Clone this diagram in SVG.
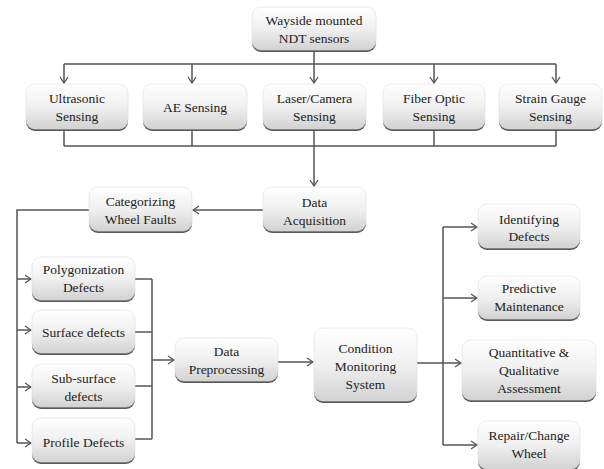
<svg xmlns="http://www.w3.org/2000/svg" width="604" height="469" viewBox="0 0 604 469">
<defs>
<linearGradient id="g" x1="0" y1="0" x2="0" y2="1">
<stop offset="0" stop-color="#ffffff"/>
<stop offset="0.5" stop-color="#f0f0f0"/>
<stop offset="1" stop-color="#d2d2d2"/>
</linearGradient>
<marker id="a" markerWidth="8" markerHeight="10" refX="7" refY="5" orient="auto" markerUnits="userSpaceOnUse">
<path d="M1,1 L7,5 L1,9" fill="none" stroke="#555" stroke-width="1.3"/>
</marker>
<style>
.sh{fill:#5a5a5a}
.bx{fill:url(#g);stroke:#dedede;stroke-width:0.6}
text{font-family:"Liberation Serif","Times New Roman",serif;font-size:13.5px;fill:#222;text-anchor:middle}
.c{fill:none;stroke:#555;stroke-width:1.5}
.ar{fill:none;stroke:#555;stroke-width:1.5;marker-end:url(#a)}
</style>
</defs>
<rect width="604" height="469" fill="#ffffff"/>

<g id="connectors">
<path class="c" d="M64,64 H556"/>
<path class="ar" d="M314,50 V83"/>
<path class="ar" d="M64,64 V83"/>
<path class="ar" d="M192,64 V83"/>
<path class="ar" d="M434,64 V83"/>
<path class="ar" d="M556,64 V83"/>
<path class="c" d="M64,129 V146 M192,129 V146 M434,129 V146 M556,129 V146 M64,146 H556"/>
<path class="ar" d="M314,129 V186"/>
<path class="ar" d="M263,210 H193"/>
<path class="c" d="M89,210 H17 V443"/>
<path class="ar" d="M17,279 H31"/>
<path class="ar" d="M17,330 H31"/>
<path class="ar" d="M17,387 H31"/>
<path class="ar" d="M17,443 H31"/>
<path class="c" d="M135,279 H152 M135,332 H152 M135,386 H152 M135,439 H152 M152,279 V439"/>
<path class="ar" d="M152,360 H174"/>
<path class="ar" d="M278,362 H313"/>
<path class="ar" d="M417,363 H461"/>
<path class="c" d="M443,227 V445"/>
<path class="ar" d="M443,227 H477"/>
<path class="ar" d="M443,298 H477"/>
<path class="ar" d="M443,445 H477"/>
</g>

<g id="wayside">
<rect class="sh" x="252" y="9" width="124" height="43" rx="9"/>
<rect class="bx" x="252" y="7" width="124" height="43" rx="9"/>
<text x="314" y="25">Wayside mounted</text>
<text x="314" y="43">NDT sensors</text>
</g>

<g id="ultrasonic">
<rect class="sh" x="26" y="86" width="102" height="45" rx="9"/>
<rect class="bx" x="26" y="84" width="102" height="45" rx="9"/>
<text x="77" y="103">Ultrasonic</text>
<text x="77" y="121">Sensing</text>
</g>

<g id="ae">
<rect class="sh" x="143" y="86" width="104" height="45" rx="9"/>
<rect class="bx" x="143" y="84" width="104" height="45" rx="9"/>
<text x="195" y="112">AE Sensing</text>
</g>

<g id="laser">
<rect class="sh" x="263" y="86" width="103" height="45" rx="9"/>
<rect class="bx" x="263" y="84" width="103" height="45" rx="9"/>
<text x="314.5" y="103">Laser/Camera</text>
<text x="314.5" y="121">Sensing</text>
</g>

<g id="fiber">
<rect class="sh" x="383" y="86" width="102" height="45" rx="9"/>
<rect class="bx" x="383" y="84" width="102" height="45" rx="9"/>
<text x="434" y="103">Fiber Optic</text>
<text x="434" y="121">Sensing</text>
</g>

<g id="strain">
<rect class="sh" x="499" y="86" width="103" height="45" rx="9"/>
<rect class="bx" x="499" y="84" width="103" height="45" rx="9"/>
<text x="550.5" y="103">Strain Gauge</text>
<text x="550.5" y="121">Sensing</text>
</g>

<g id="acquisition">
<rect class="sh" x="263" y="189" width="103" height="44" rx="9"/>
<rect class="bx" x="263" y="187" width="103" height="44" rx="9"/>
<text x="314.5" y="207">Data</text>
<text x="314.5" y="225">Acquisition</text>
</g>

<g id="categorizing">
<rect class="sh" x="89" y="189" width="103" height="44" rx="9"/>
<rect class="bx" x="89" y="187" width="103" height="44" rx="9"/>
<text x="140.5" y="206">Categorizing</text>
<text x="140.5" y="224">Wheel Faults</text>
</g>

<g id="polygonization">
<rect class="sh" x="32" y="259" width="103" height="43" rx="9"/>
<rect class="bx" x="32" y="257" width="103" height="43" rx="9"/>
<text x="83.5" y="274">Polygonization</text>
<text x="83.5" y="292">Defects</text>
</g>

<g id="surface">
<rect class="sh" x="32" y="312" width="103" height="43" rx="9"/>
<rect class="bx" x="32" y="310" width="103" height="43" rx="9"/>
<text x="83.5" y="337">Surface defects</text>
</g>

<g id="subsurface">
<rect class="sh" x="32" y="366" width="103" height="43" rx="9"/>
<rect class="bx" x="32" y="364" width="103" height="43" rx="9"/>
<text x="83.5" y="383">Sub-surface</text>
<text x="83.5" y="401">defects</text>
</g>

<g id="profile">
<rect class="sh" x="32" y="420" width="103" height="44" rx="9"/>
<rect class="bx" x="32" y="418" width="103" height="44" rx="9"/>
<text x="83.5" y="447">Profile Defects</text>
</g>

<g id="preprocessing">
<rect class="sh" x="175" y="340" width="103" height="43" rx="9"/>
<rect class="bx" x="175" y="338" width="103" height="43" rx="9"/>
<text x="226.5" y="356">Data</text>
<text x="226.5" y="374">Preprocessing</text>
</g>

<g id="cms">
<rect class="sh" x="314" y="330" width="103" height="73" rx="9"/>
<rect class="bx" x="314" y="328" width="103" height="73" rx="9"/>
<text x="365.5" y="353">Condition</text>
<text x="365.5" y="371">Monitoring</text>
<text x="365.5" y="389">System</text>
</g>

<g id="identifying">
<rect class="sh" x="478" y="206" width="102" height="44" rx="9"/>
<rect class="bx" x="478" y="204" width="102" height="44" rx="9"/>
<text x="529" y="224">Identifying</text>
<text x="529" y="241">Defects</text>
</g>

<g id="predictive">
<rect class="sh" x="478" y="278" width="102" height="43" rx="9"/>
<rect class="bx" x="478" y="276" width="102" height="43" rx="9"/>
<text x="529" y="293">Predictive</text>
<text x="529" y="311">Maintenance</text>
</g>

<g id="quantitative">
<rect class="sh" x="462" y="342" width="134" height="60" rx="9"/>
<rect class="bx" x="462" y="340" width="134" height="60" rx="9"/>
<text x="529" y="357">Quantitative &amp;</text>
<text x="529" y="375">Qualitative</text>
<text x="529" y="393">Assessment</text>
</g>

<g id="repair">
<rect class="sh" x="478" y="423" width="102" height="48" rx="9"/>
<rect class="bx" x="478" y="421" width="102" height="48" rx="9"/>
<text x="529" y="440">Repair/Change</text>
<text x="529" y="458">Wheel</text>
</g>
</svg>
